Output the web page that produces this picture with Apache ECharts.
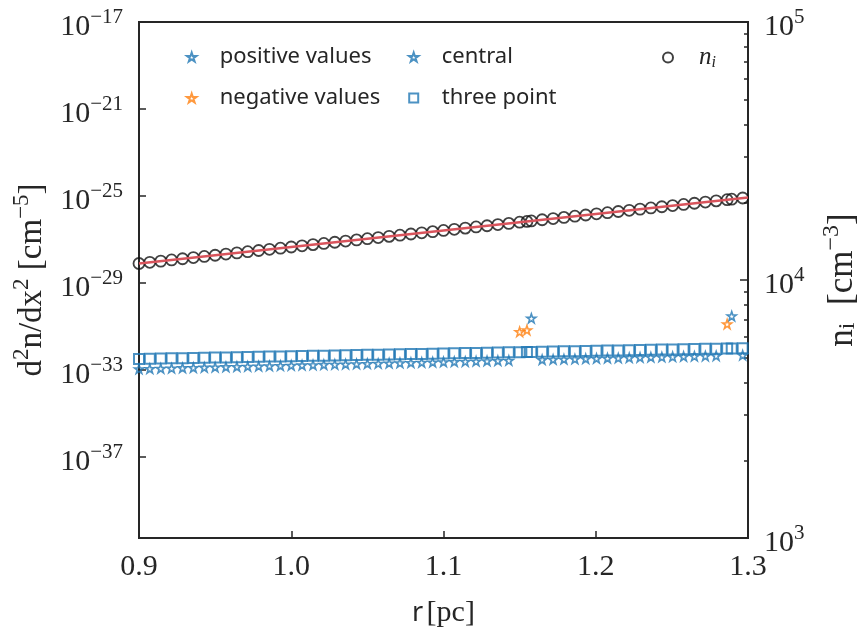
<!DOCTYPE html>
<html><head><meta charset="utf-8">
<script src="https://cdn.jsdelivr.net/npm/echarts@6/dist/echarts.min.js"></script>
<style>html,body{margin:0;padding:0;background:#fff}#c{width:865px;height:633px}</style>
</head><body><div id="c"></div>
<script>
// ---- data ----
const r = [0.9000,0.9071,0.9143,0.9214,0.9286,0.9357,0.9429,0.9500,0.9571,0.9643,0.9714,0.9786,0.9857,0.9929,1.0000,1.0071,1.0143,1.0214,1.0286,1.0357,1.0429,1.0500,1.0571,1.0643,1.0714,1.0786,1.0857,1.0929,1.1000,1.1071,1.1143,1.1214,1.1286,1.1357,1.1429,1.1500,1.1548,1.1577,1.1648,1.1720,1.1791,1.1863,1.1934,1.2005,1.2077,1.2148,1.2220,1.2291,1.2362,1.2434,1.2505,1.2577,1.2648,1.2720,1.2791,1.2863,1.2893,1.2965];
const nI = [11588,11711,11835,11960,12086,12214,12343,12474,12606,12739,12874,13010,13148,13287,13427,13569,13713,13858,14005,14153,14303,14454,14607,14761,14917,15075,15235,15396,15559,15724,15890,16058,16228,16400,16573,16749,16870,16944,17123,17304,17487,17672,17859,18048,18239,18432,18627,18824,19023,19224,19428,19633,19841,20051,20263,20477,20568,20787];
const fitR = [0.9, 1.3];
const fitN = [11588, 20880];
const threePoint = [3.24e-33,3.30e-33,3.37e-33,3.44e-33,3.51e-33,3.59e-33,3.66e-33,3.74e-33,3.82e-33,3.90e-33,3.98e-33,4.06e-33,4.14e-33,4.23e-33,4.32e-33,4.41e-33,4.50e-33,4.59e-33,4.69e-33,4.79e-33,4.89e-33,4.99e-33,5.09e-33,5.20e-33,5.31e-33,5.42e-33,5.53e-33,5.64e-33,5.76e-33,5.88e-33,6.00e-33,6.13e-33,6.26e-33,6.39e-33,6.52e-33,6.65e-33,6.74e-33,6.79e-33,6.93e-33,7.07e-33,7.22e-33,7.37e-33,7.52e-33,7.68e-33,7.84e-33,8.00e-33,8.17e-33,8.34e-33,8.51e-33,8.69e-33,8.87e-33,9.05e-33,9.24e-33,9.43e-33,9.63e-33,9.83e-33,9.90e-33,1.01e-32];
const central = [1.12e-33,1.15e-33,1.18e-33,1.21e-33,1.25e-33,1.28e-33,1.32e-33,1.35e-33,1.39e-33,1.42e-33,1.46e-33,1.50e-33,1.54e-33,1.58e-33,1.62e-33,1.67e-33,1.71e-33,1.76e-33,1.80e-33,1.85e-33,1.90e-33,1.95e-33,2.00e-33,2.06e-33,2.11e-33,2.17e-33,2.23e-33,2.29e-33,2.35e-33,2.41e-33,2.47e-33,2.54e-33,2.61e-33,2.68e-33,2.75e-33,null,null,null,2.98e-33,3.06e-33,3.14e-33,3.22e-33,3.31e-33,3.40e-33,3.49e-33,3.58e-33,3.68e-33,3.78e-33,3.88e-33,3.98e-33,4.09e-33,4.20e-33,4.31e-33,4.42e-33,4.54e-33,null,null,4.83e-33];
const posR = [1.1577, 1.2893];
const posVal = [2.40e-31, 3.02e-31];
const negR = [1.1500, 1.1548, 1.2863];
const negVal = [5.75e-32, 6.92e-32, 1.30e-31];
const xTicks = [0.9, 1.0, 1.1, 1.2, 1.3];
const leftTicks = [1e-37, 1e-33, 1e-29, 1e-25, 1e-21, 1e-17];
const rightMajor = [1e3, 1e4, 1e5];
const rightMinor = [2e3,3e3,4e3,5e3,6e3,7e3,8e3,9e3,2e4,3e4,4e4,5e4,6e4,7e4,8e4,9e4];

// ---- build ----
const pairs = (xs, ys) => xs.map((x, i) => [x, ys[i]]).filter(p => p[1] != null);
const BLUE = '#1f77b4', ORANGE = '#ff7f0e', INK = '#262626';
const STAR = 'path://M50,0 L61.8,35.1 L97.6,35.1 L68.5,56.7 L79.4,91.0 L50,69.7 L20.6,91.0 L31.5,56.7 L2.4,35.1 L38.2,35.1 Z';
const SQUARE = 'path://M0,0 L10,0 L10,10 L0,10 Z';
const SERIF = 'Liberation Serif';
const supRich = {
  b: {fontFamily: SERIF, fontSize: 30, lineHeight: 34, padding: [6, 0, 0, 0], color: INK},
  s: {fontFamily: SERIF, fontSize: 21, lineHeight: 21, verticalAlign: 'top', color: INK}
};
const nameRich = {
  b: {fontFamily: SERIF, fontSize: 33, lineHeight: 38, padding: [6, 0, 0, 0], color: INK},
  s: {fontFamily: SERIF, fontSize: 23, lineHeight: 23, verticalAlign: 'top', color: INK},
  i: {fontFamily: SERIF, fontSize: 23, lineHeight: 23, verticalAlign: 'bottom', color: INK}
};
const nameRichR = {
  b: {fontFamily: SERIF, fontSize: 35, lineHeight: 40, padding: [6, 0, 0, 0], color: INK},
  s: {fontFamily: SERIF, fontSize: 24, lineHeight: 24, verticalAlign: 'top', color: INK},
  i: {fontFamily: SERIF, fontSize: 24, lineHeight: 24, verticalAlign: 'bottom', color: INK}
};
const expFmt = v => { const e = Math.round(Math.log10(v)); return '{b|10}{s|' + String(e).replace('-', '\u2212') + '}'; };
const tickStyle = {lineStyle: {color: INK, width: 1.5}};
const legendText = {fontFamily: 'Noto Sans', fontSize: 22, lineHeight: 24, color: INK};

const chart = echarts.init(document.getElementById('c'), null, {renderer: 'canvas'});
chart.setOption({
  animation: false,
  backgroundColor: '#fff',
  grid: {left: 139, right: 117, top: 22, bottom: 95, containLabel: false, outerBoundsMode: 'none',
         show: true, borderColor: INK, borderWidth: 2, backgroundColor: 'transparent'},
  legend: [
    {data: ['positive values', 'negative values'], orient: 'vertical', left: 181, top: 40, itemWidth: 46, itemHeight: 9, itemGap: 17, symbolKeepAspect: true, textStyle: legendText},
    {data: ['central', 'three point'], orient: 'vertical', left: 403, top: 40, itemWidth: 46, itemHeight: 9, itemGap: 17, symbolKeepAspect: true, textStyle: legendText},
    {data: ['n_i'], orient: 'vertical', left: 657, top: 40, itemWidth: 52, itemHeight: 10, symbolKeepAspect: true,
     formatter: () => '{it|n}{sub|i}',
     textStyle: {rich: {it: {fontFamily: SERIF, fontStyle: 'italic', fontSize: 25, color: INK},
                        sub: {fontFamily: SERIF, fontStyle: 'italic', fontSize: 16, color: INK, verticalAlign: 'bottom', padding: [10, 0, 0, 0]}}}}
  ],
  xAxis: {
    type: 'value', min: 0.9, max: 1.3, interval: 0.1,
    axisLine: {lineStyle: {color: INK, width: 2}},
    axisTick: {inside: true, length: 7, customValues: xTicks, ...tickStyle},
    splitLine: {show: false},
    axisLabel: {customValues: xTicks, fontFamily: SERIF, fontSize: 30, color: INK, margin: 14, formatter: v => v.toFixed(1)},
    name: '{a|r} {b|[pc]}', nameLocation: 'middle', nameGap: 60,
    nameTextStyle: {rich: {a: {fontFamily: 'Noto Sans', fontSize: 27, color: INK}, b: {fontFamily: SERIF, fontSize: 30, color: INK}}}
  },
  yAxis: [
    {
      type: 'log', logBase: 10, min: 1.9e-41, max: 1e-17, position: 'left',
      axisLine: {show: true, lineStyle: {color: INK, width: 2}},
      axisTick: {inside: true, length: 7, customValues: leftTicks, ...tickStyle},
      minorTick: {show: false}, splitLine: {show: false},
      axisLabel: {customValues: leftTicks, margin: 16, padding: [4, 0, 0, 0], formatter: expFmt, rich: supRich},
      name: '{b|d}{s|2}{b|n/dx}{s|2}{b| [cm}{s|\u22125}{b|]}', nameLocation: 'middle', nameRotate: 90, nameGap: 86,
      nameTextStyle: {rich: nameRich}
    },
    {
      type: 'log', logBase: 10, min: 1e3, max: 1e5, position: 'right',
      axisLine: {show: true, lineStyle: {color: INK, width: 2}},
      axisTick: {inside: true, length: 8, customValues: rightMajor, ...tickStyle},
      minorTick: {show: false}, splitLine: {show: false},
      axisLabel: {customValues: rightMajor, margin: 16, padding: [4, 0, 0, 0], formatter: expFmt, rich: supRich},
      name: '{b|n}{i|i}{b|  [cm}{s|\u22123}{b|]}', nameLocation: 'middle', nameRotate: 90, nameGap: 72,
      nameTextStyle: {rich: nameRichR}
    },
    {
      type: 'log', logBase: 10, min: 1e3, max: 1e5, position: 'right',
      axisLine: {show: false}, axisLabel: {show: false}, splitLine: {show: false}, minorTick: {show: false},
      axisTick: {show: true, inside: true, length: 4, customValues: rightMinor, ...tickStyle}
    }
  ],
  series: [
    {name: 'n_i', type: 'scatter', yAxisIndex: 1, symbol: 'circle', symbolSize: 11, z: 2,
     itemStyle: {color: 'rgba(255,255,255,0)', borderColor: '#111', borderWidth: 1.8}, data: pairs(r, nI)},
    {name: 'fit', type: 'line', yAxisIndex: 1, showSymbol: false, symbol: 'none', z: 3,
     lineStyle: {color: '#d9545c', width: 2.5}, data: pairs(fitR, fitN)},
    {name: 'three point', type: 'scatter', yAxisIndex: 0, symbol: SQUARE, symbolSize: 10, z: 4,
     itemStyle: {color: 'rgba(255,255,255,0)', borderColor: BLUE, borderWidth: 2}, data: pairs(r, threePoint)},
    {name: 'central', type: 'scatter', yAxisIndex: 0, symbol: STAR, symbolSize: 9, z: 5,
     itemStyle: {color: 'rgba(255,255,255,0)', borderColor: BLUE, borderWidth: 1.6}, data: pairs(r, central)},
    {name: 'positive values', type: 'scatter', yAxisIndex: 0, symbol: STAR, symbolSize: 9, z: 5,
     itemStyle: {color: 'rgba(255,255,255,0)', borderColor: BLUE, borderWidth: 1.6}, data: pairs(posR, posVal)},
    {name: 'negative values', type: 'scatter', yAxisIndex: 0, symbol: STAR, symbolSize: 9, z: 5,
     itemStyle: {color: 'rgba(255,255,255,0)', borderColor: ORANGE, borderWidth: 1.6}, data: pairs(negR, negVal)}
  ]
});
</script></body></html>
